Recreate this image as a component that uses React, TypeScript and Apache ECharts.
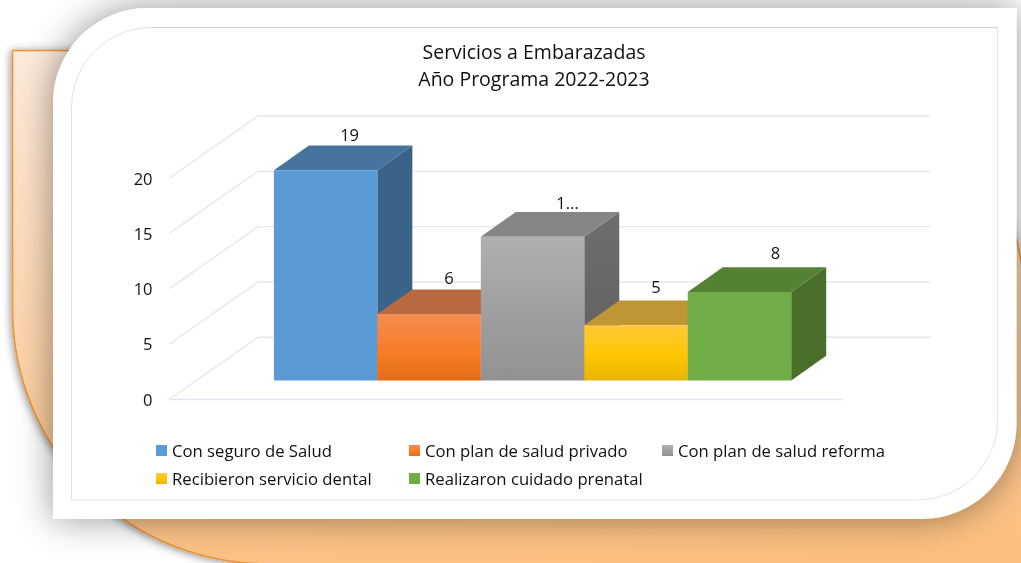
import React, { useEffect, useRef } from "react";
import * as echarts from "echarts";

const titleLines = ["Servicios a Embarazadas", "Año Programa 2022-2023"];
const seriesNames = [
  "Con seguro de Salud",
  "Con plan de salud privado",
  "Con plan de salud reforma",
  "Recibieron servicio dental",
  "Realizaron cuidado prenatal",
];
const seriesValues = [19, 6, 13, 5, 8];
const valueLabels = ["19", "6", "1...", "5", "8"];
const axisTicks = [0, 5, 10, 15, 20];

const FONT = "'Open Sans', sans-serif";
const TEXT = "#111111";
const vgrad = (stops: [number, string][]) => ({
  type: "linear", x: 0, y: 0, x2: 0, y2: 1,
  colorStops: stops.map(([offset, color]) => ({ offset, color })),
});

const fronts: any[] = [
  "#5b9bd5",
  vgrad([[0, "#f58d55"], [0.55, "#f77d27"], [1, "#e56c16"]]),
  vgrad([[0, "#b0b0b0"], [1, "#919191"]]),
  vgrad([[0, "#ffc93c"], [0.55, "#ffc600"], [1, "#e8b500"]]),
  "#70ad47",
];
const tops = ["#46749f", "#b76a40", "#858585", "#bf9635", "#548235"];
const sides: any[] = [
  "#3a6389",
  "#a8592c",
  vgrad([[0, "#6e6e6e"], [1, "#5f5f5f"]]),
  "#a88314",
  "#4a6f2b",
];

// depth of the box between the front floor line and the back wall
const WALL_DX = 88.5, WALL_DY = -62;
// depth position of the bars' front faces, and depth of each bar
const BAR_DX = 26.8, BAR_DY = -18.8;
const BOX_DX = 35, BOX_DY = -24.7;
const GAP = 1.3;
const labelShift: [number, number][] = [[-11, -11], [-15, -12], [0, -9], [-15, -14], [1, -14.5]];

const PANEL = "M12.5 50.5 L770 50.5 A255 255 0 0 1 1025 305.5 L1025 600 L267.5 600 L267.5 564 A255 255 0 0 1 12.5 309 Z";
const CARD = "M148 8 L1016.5 8 L1016.5 424 A95 95 0 0 1 921.5 519 L53 519 L53 103 A95 95 0 0 1 148 8 Z";
const INNER = "M151.5 27.5 L997.5 27.5 L997.5 420 A80 80 0 0 1 917.5 500 L71.5 500 L71.5 107.5 A80 80 0 0 1 151.5 27.5 Z";

let registered = false;
function registerShapes() {
  if (registered) return;
  registered = true;
  echarts.graphic.registerShape("panelShape", (echarts.graphic as any).extendPath(PANEL, {}));
  echarts.graphic.registerShape("cardShape", (echarts.graphic as any).extendPath(CARD, {}));
  echarts.graphic.registerShape("innerShape", (echarts.graphic as any).extendPath(INNER, {}));
}

export default function App() {
  const ref = useRef<HTMLDivElement>(null);
  useEffect(() => {
    document.body.style.margin = "0";
    document.body.style.overflow = "hidden";
    registerShapes();
    const chart = echarts.init(ref.current!, undefined, { renderer: "svg" });

    const barItem = (idx: number) => (params: any, api: any) => {
      const cs = params.coordSys;
      const band = cs.width;
      const barW = band / GAP / seriesNames.length;
      const x0 = cs.x + band / 2 - (barW * seriesNames.length) / 2 + BAR_DX + idx * barW;
      const x1 = x0 + barW;
      const yTop = api.coord([api.value(0), api.value(1)])[1] + BAR_DY;
      const yBase = api.coord([api.value(0), 0])[1] + BAR_DY;
      return {
        type: "group",
        children: [
          {
            type: "polygon",
            shape: { points: [[x1, yTop], [x1 + BOX_DX, yTop + BOX_DY], [x1 + BOX_DX, yBase + BOX_DY], [x1, yBase]] },
            style: { fill: sides[idx] },
          },
          {
            type: "polygon",
            shape: { points: [[x0, yTop], [x0 + BOX_DX, yTop + BOX_DY], [x1 + BOX_DX, yTop + BOX_DY], [x1, yTop]] },
            style: { fill: tops[idx] },
          },
          {
            type: "rect",
            shape: { x: x0, y: yTop, width: barW, height: yBase - yTop },
            style: { fill: fronts[idx] },
          },
          {
            type: "text",
            style: {
              text: valueLabels[idx],
              x: (x0 + x1) / 2 + BOX_DX + labelShift[idx][0],
              y: yTop + BOX_DY + labelShift[idx][1],
              fill: TEXT,
              fontFamily: FONT,
              fontSize: 16.5,
              align: "center",
              verticalAlign: "middle",
            },
          },
        ],
      };
    };

    const wallItem = (params: any, api: any) => {
      const cs = params.coordSys;
      const y = api.coord([0, api.value(1)])[1];
      return {
        type: "polyline",
        shape: {
          points: [
            [cs.x, y],
            [cs.x + WALL_DX, y + WALL_DY],
            [cs.x + cs.width + WALL_DX, y + WALL_DY],
          ],
        },
        style: { fill: "none", stroke: "#e5e7ee", lineWidth: 1.4 },
      };
    };

    const legendSpots = [
      { left: 156, top: 442 },
      { left: 409, top: 442 },
      { left: 662, top: 442 },
      { left: 156, top: 470 },
      { left: 409, top: 470 },
    ];

    chart.setOption({
      animation: false,
      title: {
        text: titleLines.join("\n"),
        left: 534,
        top: 33,
        textAlign: "center",
        textStyle: { fontFamily: FONT, fontSize: 19.5, fontWeight: "normal", color: TEXT, lineHeight: 27 },
        padding: [5, 9, 5, 0],
      },
      graphic: [
        {
          type: "panelShape", x: 0, y: 0, z: -10,
          style: {
            fill: {
              type: "linear", x: 0, y: 0, x2: 0.12, y2: 1,
              colorStops: [
                { offset: 0, color: "#fdebdd" },
                { offset: 0.55, color: "#fdd3a9" },
                { offset: 1, color: "#fdbf7e" },
              ],
            },
            stroke: "#ee9232",
            lineWidth: 1.6,
            shadowBlur: 9,
            shadowColor: "rgba(0,0,0,0.45)",
            shadowOffsetX: -1,
            shadowOffsetY: 1,
          },
        },
        {
          type: "cardShape", x: 0, y: 0, z: -9,
          style: {
            fill: "#ffffff",
            shadowBlur: 36,
            shadowColor: "rgba(0,0,0,0.42)",
          },
        },
        {
          type: "innerShape", x: 0, y: 0, z: -8,
          style: { fill: "#ffffff", stroke: "#e6e3df", lineWidth: 1 },
        },
        {
          type: "line", z: -7,
          shape: { x1: 151.5, y1: 27.5, x2: 997.5, y2: 27.5 },
          style: { stroke: "#d0d0d0", lineWidth: 1 },
        },
      ],
      legend: seriesNames.map((name, i) => ({
        ...legendSpots[i],
        orient: "horizontal",
        padding: 0,
        selectedMode: false,
        icon: "rect",
        itemWidth: 11,
        itemHeight: 11,
        textStyle: { fontFamily: FONT, fontSize: 16.7, color: TEXT },
        data: [{ name, itemStyle: { color: fronts[i] } }],
      })),
      grid: { left: 169.5, top: 178, width: 672.5, height: 221.3, containLabel: false },
      xAxis: {
        type: "category",
        data: [""],
        axisTick: { show: false },
        axisLabel: { show: false },
        axisLine: { show: true, lineStyle: { color: "#e3e6ee", width: 1.4 } },
        splitLine: { show: false },
      },
      yAxis: {
        type: "value",
        min: 0,
        max: axisTicks[axisTicks.length - 1],
        interval: axisTicks[1] - axisTicks[0],
        axisLine: { show: false },
        axisTick: { show: false },
        splitLine: { show: false },
        axisLabel: { margin: 17, color: TEXT, fontFamily: FONT, fontSize: 16.5 },
      },
      series: [
        {
          type: "custom",
          name: "__wall",
          silent: true,
          z: 1,
          clip: false,
          encode: { x: 0, y: 1 },
          data: axisTicks.map((t) => [0, t]),
          renderItem: wallItem,
        },
        ...seriesNames.map((name, i) => ({
          type: "custom",
          name,
          silent: true,
          clip: false,
          z: 2 + i,
          itemStyle: { color: fronts[i] },
          encode: { x: 0, y: 1 },
          data: [[0, seriesValues[i]]],
          renderItem: barItem(i),
        })),
      ],
    });
    return () => chart.dispose();
  }, []);
  return <div ref={ref} style={{ position: "fixed", left: 0, top: 0, width: 1021, height: 563 }} />;
}
